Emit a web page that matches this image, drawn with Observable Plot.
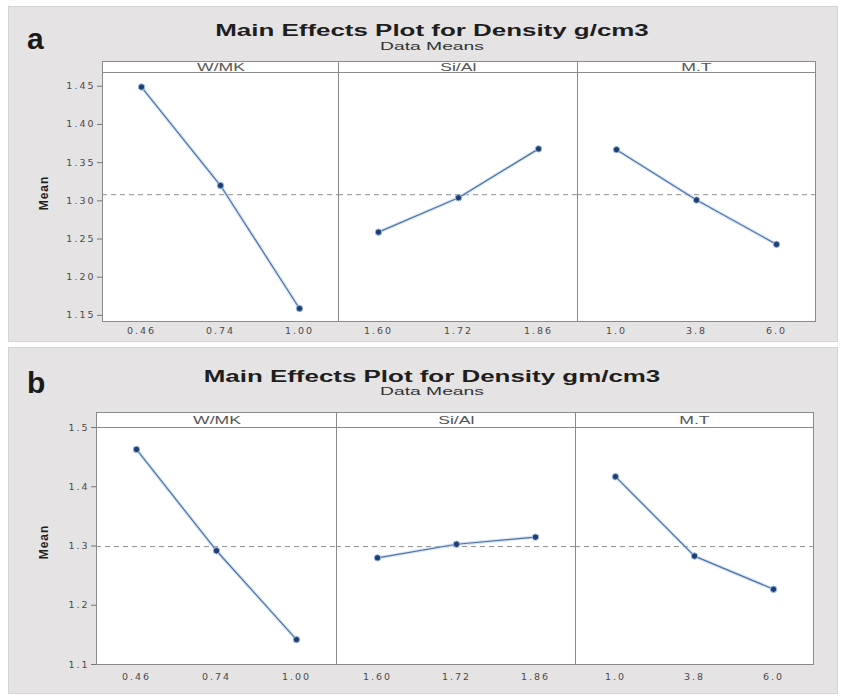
<!DOCTYPE html>
<html>
<head>
<meta charset="utf-8">
<script src="https://cdn.jsdelivr.net/npm/d3@7"></script>
<script src="https://cdn.jsdelivr.net/npm/@observablehq/plot@0.6"></script>
<style>
  body { margin: 0; background: #ffffff; }
  #root { position: relative; width: 843px; height: 697px; overflow: hidden; font-family: "Liberation Sans", Arial, sans-serif; }
  .panel { position: absolute; left: 8px; width: 830px; background: #e5e3e3; border: 1px solid #d4d2d2; box-sizing: border-box; }
  .abs { position: absolute; white-space: nowrap; }
  .title { font-weight: bold; font-size: 16px; line-height: 16px; color: #1e1e1e; transform: translateX(-50%) scaleX(1.62); }
  .sub { font-size: 11px; line-height: 11px; color: #333; transform: translateX(-50%) scaleX(1.75); }
  .letter { font-weight: bold; font-size: 30px; line-height: 30px; color: #1a1a1a; }
  .strip { position: absolute; background: #ffffff; border: 1px solid #8a8a8a; box-sizing: border-box; text-align: center; color: #555; font-size: 11px; overflow: visible; }
  .strip span { display: inline-block; transform: scaleX(1.6); }
  .ylab { font-weight: bold; font-size: 12px; line-height: 12px; color: #1e1e1e; transform: translate(-50%, -50%) rotate(-90deg); letter-spacing: 1px; }
  .facet { position: absolute; }
  #root svg text { font-family: "DejaVu Sans", sans-serif; font-size: 9.5px; letter-spacing: 2px; fill: #4a4a4a; }
</style>
</head>
<body>
<div id="root"></div>
<script>
// ---- data ----
const factors = ["W/MK", "Si/Al", "M.T"];
const levelsWMK = ["0.46", "0.74", "1.00"];
const levelsSiAl = ["1.60", "1.72", "1.86"];
const levelsMT = ["1.0", "3.8", "6.0"];

// panel a: Density g/cm3 (means per level)
const meansA_WMK = [1.449, 1.320, 1.159];
const meansA_SiAl = [1.259, 1.304, 1.368];
const meansA_MT = [1.367, 1.301, 1.243];
const grandMeanA = 1.308;
const yTicksA = [1.15, 1.20, 1.25, 1.30, 1.35, 1.40, 1.45];

// panel b: Density gm/cm3
const meansB_WMK = [1.463, 1.292, 1.142];
const meansB_SiAl = [1.280, 1.303, 1.315];
const meansB_MT = [1.417, 1.283, 1.227];
const grandMeanB = 1.299;
const yTicksB = [1.1, 1.2, 1.3, 1.4, 1.5];

const titleA = "Main Effects Plot for Density g/cm3";
const titleB = "Main Effects Plot for Density gm/cm3";
const subtitle = "Data Means";
const yLabel = "Mean";

// ---- layout ----
const root = document.getElementById("root");
function el(cls, style, text) {
  const d = document.createElement("div");
  d.className = cls;
  Object.assign(d.style, style);
  if (text != null) d.textContent = text;
  root.appendChild(d);
  return d;
}

const panels = [
  {
    box: [6, 342], letter: "a", letterTop: 24, title: titleA, titleTop: 23, subTop: 41, cx: 432,
    stripTop: 61, top: 72, bottom: 321, xs: [102, 338, 577, 815],
    yDomain: [1.142, 1.468], yTicks: yTicksA, fmt: ".2f", grand: grandMeanA,
    levels: [levelsWMK, levelsSiAl, levelsMT], means: [meansA_WMK, meansA_SiAl, meansA_MT],
    padding: 0.48, xPad: 6
  },
  {
    box: [347, 694], letter: "b", letterTop: 368, title: titleB, titleTop: 369, subTop: 386, cx: 432,
    stripTop: 412, top: 427, bottom: 664, xs: [96, 336, 575, 813],
    yDomain: [1.1, 1.5], yTicks: yTicksB, fmt: ".1f", grand: grandMeanB,
    levels: [levelsWMK, levelsSiAl, levelsMT], means: [meansB_WMK, meansB_SiAl, meansB_MT],
    padding: 0.5, xPad: 9
  }
];

for (const p of panels) {
  el("panel", {top: p.box[0] + "px", height: (p.box[1] - p.box[0]) + "px"});
  el("abs letter", {left: "27px", top: p.letterTop + "px"}, p.letter);
  el("abs title", {left: p.cx + "px", top: p.titleTop + "px"}, p.title);
  el("abs sub", {left: p.cx + "px", top: p.subTop + "px"}, subtitle);
  el("abs ylab", {left: "44px", top: ((p.top + p.bottom) / 2 - 4) + "px"}, yLabel);

  for (let i = 0; i < 3; i++) {
    const x0 = p.xs[i], x1 = p.xs[i + 1];
    const w = x1 - x0;
    // strip
    const s = el("strip", {
      left: x0 + "px", top: p.stripTop + "px", width: (w + 1) + "px",
      height: (p.top - p.stripTop + 1) + "px",
      lineHeight: (p.top - p.stripTop - 1) + "px"
    });
    const sp = document.createElement("span");
    sp.textContent = factors[i];
    s.appendChild(sp);

    const data = p.levels[i].map((lv, k) => ({level: lv, mean: p.means[i][k]}));
    const mL = 40, mR = 10, mB = 30;
    const chart = Plot.plot({
      width: w + mL + mR,
      height: (p.bottom - p.top) + mB,
      marginLeft: mL, marginRight: mR, marginTop: 0, marginBottom: mB,
      x: {type: "point", domain: p.levels[i], padding: p.padding, axis: null},
      y: {domain: p.yDomain, axis: null},
      style: {background: "transparent", overflow: "visible"},
      marks: [
        Plot.frame({fill: "white", stroke: "none"}),
        Plot.ruleY([p.grand], {stroke: "#8e8e8e", strokeDasharray: "5,4", strokeWidth: 1}),
        i === 0
          ? Plot.axisY(p.yTicks, {tickSize: 5, tickPadding: 2, tickFormat: d3.format(p.fmt), label: null, stroke: "#777"})
          : null,
        Plot.axisX({tickSize: 0, tickPadding: p.xPad, label: null}),
        Plot.line(data, {x: "level", y: "mean", stroke: "#bcd3ee", strokeWidth: 3.5, strokeOpacity: 0.6}),
        Plot.line(data, {x: "level", y: "mean", stroke: "#4d72a6", strokeWidth: 1.2}),
        Plot.dot(data, {x: "level", y: "mean", r: 3.2, fill: "#1f3f74", stroke: "#9fbde0", strokeWidth: 1}),
        Plot.frame({stroke: "#8a8a8a"})
      ].filter(Boolean)
    });
    const wrap = document.createElement("div");
    wrap.className = "facet";
    wrap.style.left = (x0 - mL) + "px";
    wrap.style.top = p.top + "px";
    wrap.appendChild(chart);
    root.appendChild(wrap);
  }
}
</script>
</body>
</html>
